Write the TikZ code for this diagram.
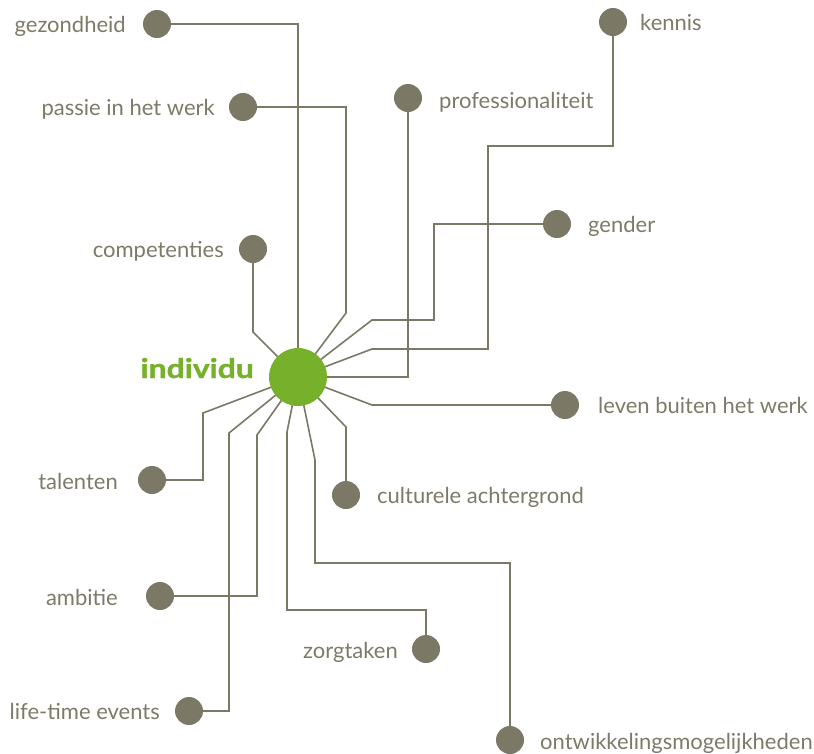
\documentclass[tikz,border=0pt]{standalone}
\usepackage{fontspec}
\setmainfont{Lato}
\newfontfamily\hubfont[FakeBold=1.2]{Lato Bold}
\usetikzlibrary{backgrounds}
\definecolor{dotgray}{HTML}{7B7866}
\definecolor{txtgray}{HTML}{7D7A68}
\definecolor{hubgreen}{HTML}{77B02A}
\begin{document}
\begin{tikzpicture}[x=1pt,y=-1pt,
  dot/.style={circle,fill=dotgray,draw=none,minimum size=28pt,inner sep=0pt},
  hubdot/.style={circle,fill=hubgreen,draw=none,minimum size=58pt,inner sep=0pt},
  wire/.style={draw=dotgray,line width=1.6pt},
  lbl/.style={text=txtgray,font=\fontsize{22}{26}\selectfont,inner sep=0pt},
  hublbl/.style={text=hubgreen,font=\hubfont\fontsize{27}{30}\selectfont,inner sep=0pt}]
\useasboundingbox (0,0) rectangle (814,753);

% central hub and its label
\node[hubdot] (hub) at (298,377) {};
\node[hublbl,anchor=base east] (hubtxt) at (254,378) {\scalebox{1.18}[1]{individu}};

% outer dots
\node[dot] (gez)  at (157,24)  {};
\node[dot] (pas)  at (243,107) {};
\node[dot] (comp) at (253,249) {};
\node[dot] (prof) at (408,98)  {};
\node[dot] (ken)  at (613,22)  {};
\node[dot] (gen)  at (557,224) {};
\node[dot] (lev)  at (565,405) {};
\node[dot] (cul)  at (346,495) {};
\node[dot] (ont)  at (510,740) {};
\node[dot] (zor)  at (426,649) {};
\node[dot] (amb)  at (160,596) {};
\node[dot] (lif)  at (189,711) {};
\node[dot] (tal)  at (152,480) {};

% labels, baselines 8pt below their dots
\node[lbl,anchor=base east] at (126,32)  {gezondheid};
\node[lbl,anchor=base east] at (215,115) {passie in het werk};
\node[lbl,anchor=base east] at (224,257) {competenties};
\node[lbl,anchor=base west] at (439,108) {professionaliteit};
\node[lbl,anchor=base west] at (640,30)  {kennis};
\node[lbl,anchor=base west] at (588,232) {gender};
\node[lbl,anchor=base west] at (598,413) {leven buiten het werk};
\node[lbl,anchor=base west] at (377,503) {culturele achtergrond};
\node[lbl,anchor=base west] at (540,749) {ontwikkelingsmogelijkheden};
\node[lbl,anchor=base east] at (398,658) {zorgtaken};
\node[lbl,anchor=base east] at (118,605) {ambitie};
\node[lbl,anchor=base east] at (160,719) {life-time events};
\node[lbl,anchor=base east] at (118,489) {talenten};

% connectors, behind the dots
\begin{scope}[on background layer]
\draw[wire] (hub.center) |- (gez);
\draw[wire] (hub.center) -- (346,313) |- (pas);
\draw[wire] (hub.center) -- (253,332) -- (comp);
\draw[wire] (hub.center) -| (prof);
\draw[wire] (hub.center) -- (372,349) -- (488,349) |- (613,146) -- (ken);
\draw[wire] (hub.center) -- (372,320) -- (434,320) |- (gen);
\draw[wire] (hub.center) -- (372,405) -- (lev);
\draw[wire] (hub.center) -- (346,427) -- (cul);
\draw[wire] (hub.center) -- (315,460) -- (315,563) -| (ont);
\draw[wire] (hub.center) -- (287,432) -- (287,610) -| (zor);
\draw[wire] (hub.center) -- (257,435) |- (amb);
\draw[wire] (hub.center) -- (229,433) |- (lif);
\draw[wire] (hub.center) -- (203,413) |- (tal);
\end{scope}
\end{tikzpicture}
\end{document}
